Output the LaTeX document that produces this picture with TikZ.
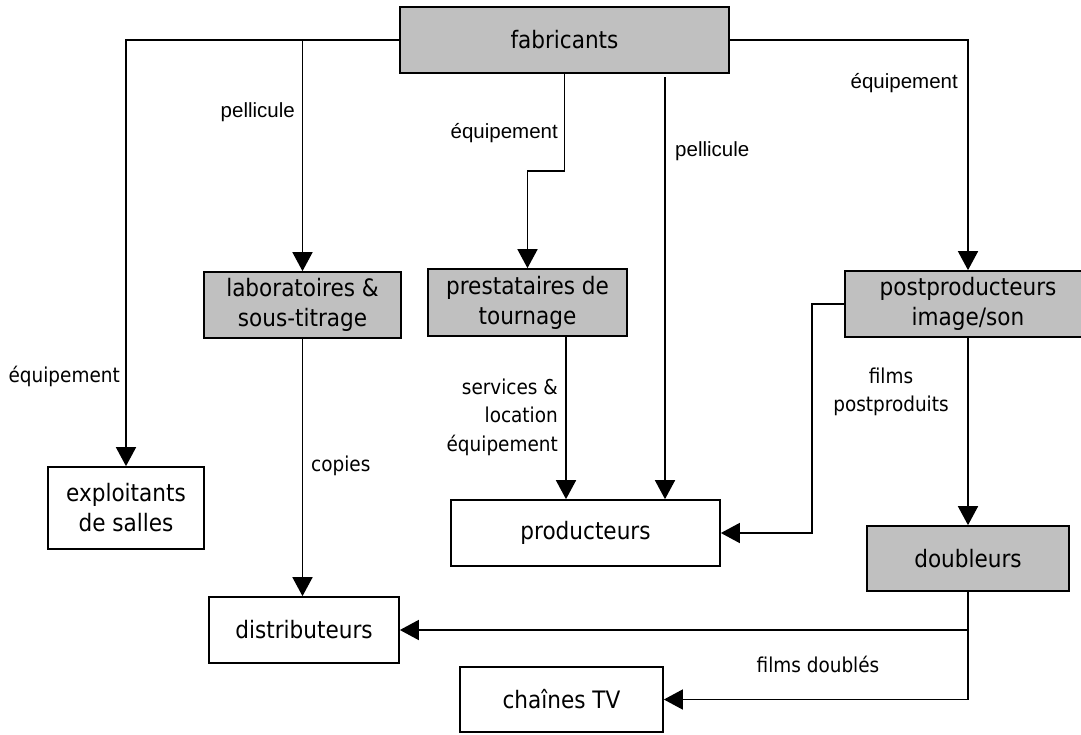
\documentclass[tikz,border=0pt]{standalone}
\usepackage{fontspec}
\setmainfont{DejaVu Sans Condensed}
\newfontfamily\arialf{Liberation Sans}
\usetikzlibrary{arrows.meta}
\definecolor{boxgray}{HTML}{C0C0C0}
\begin{document}
\begin{tikzpicture}[x=1pt,y=-1pt,
  box/.style={draw=black,line width=1.7pt,inner sep=0pt,align=center,
    font=\fontsize{24}{30}\selectfont},
  gbox/.style={box,fill=boxgray},
  wbox/.style={box,fill=white},
  arr/.style={line width=1.7pt,-{Triangle[length=19pt,width=20pt]}},
  lblT/.style={inner sep=0pt,align=center,font=\fontsize{20.5}{28.5}\selectfont},
  lblA/.style={inner sep=0pt,align=center,font=\arialf\fontsize{20.5}{25}\selectfont}]
\useasboundingbox (0,0) rectangle (1081,734);
\clip (0,0) rectangle (1081,734);
\fill[white] (0,0) rectangle (1081,734);

% nodes
\node[gbox,minimum width=329pt,minimum height=66pt] (fab) at (564.5,40) {fabricants};
\node[gbox,minimum width=197pt,minimum height=66pt] (labs) at (302.5,305) {laboratoires \&\\sous-titrage};
\node[gbox,minimum width=199pt,minimum height=67pt] (prest) at (527.5,302.5) {prestataires de\\tournage};
\node[gbox,minimum width=246pt,minimum height=66pt] (post) at (968,304) {postproducteurs\\image/son};
\node[wbox,minimum width=156pt,minimum height=82pt] (expl) at (126,508) {exploitants\\de salles};
\node[wbox,minimum width=190pt,minimum height=66pt] (dist) at (304,630) {distributeurs};
\node[wbox,minimum width=269pt,minimum height=66pt] (prod) at (585.5,533) {producteurs};
\node[gbox,minimum width=202pt,minimum height=65pt] (doub) at (968,558.5) {doubleurs};
\node[wbox,minimum width=203pt,minimum height=65pt] (chai) at (561.5,699.5) {chaînes TV};

% helper coordinates
\coordinate (stepy) at (564.5,171);
\coordinate (pel2) at (665,77);
\coordinate (pk) at (812,304);
\coordinate (prestout) at (566,336);

% connectors
\draw[arr] (fab.west) -| (expl.north);
\draw[arr] (fab.west -| labs.north) -- (labs.north);
\draw[arr] (fab.south) -- (stepy) -| (prest.north);
\draw[arr] (pel2) -- (pel2 |- prod.north);
\draw[arr] (fab.east) -| (post.north);
\draw[arr] (labs.south) -- (labs.south |- dist.north);
\draw[arr] (prestout) -- (prestout |- prod.north);
\draw[arr] (post.west) -- (pk) |- (prod.east);
\draw[arr] (post.south) -- (doub.north);
\draw[arr] (doub.south) |- (chai.east);
\draw[arr] (doub.south |- dist.east) -- (dist.east);

% labels
\node[lblT,anchor=east] (l1) at (120,376) {équipement};
\node[lblA,anchor=east] (l2) at (295,112) {pellicule};
\node[lblA,anchor=east] (l3) at (558,133) {équipement};
\node[lblA,anchor=west] (l4) at (675,151) {pellicule};
\node[lblA,anchor=east] (l5) at (958,83) {équipement};
\node[lblT,anchor=west] (l6) at (311,466) {copies};
\node[lblT,anchor=east,align=right] (l7) at (558,417) {services \&\\location\\équipement};
\node[lblT] (l8) at (891,392) {films\\postproduits};
\node[lblT] (l9) at (818,664) {films doublés};
\end{tikzpicture}
\end{document}
